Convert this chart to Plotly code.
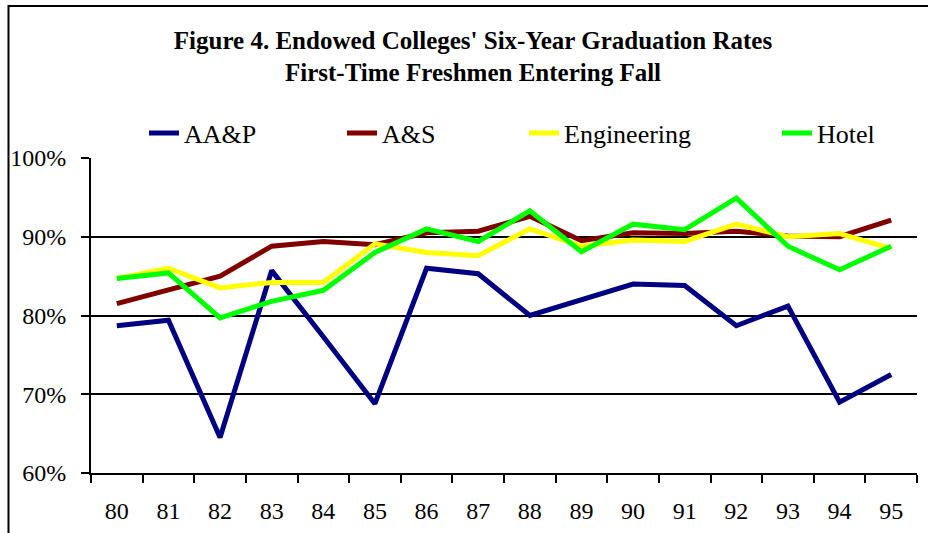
import plotly.graph_objects as go

years = ["80", "81", "82", "83", "84", "85", "86", "87", "88", "89", "90", "91", "92", "93", "94", "95"]
aap = [78.7, 79.4, 64.5, 85.7, 77.3, 68.8, 86.0, 85.3, 80.0, 82.0, 84.0, 83.8, 78.7, 81.2, 69.0, 72.5]
a_s = [81.5, 83.3, 85.0, 88.8, 89.4, 89.0, 90.5, 90.7, 92.6, 89.5, 90.5, 90.4, 90.7, 90.1, 90.0, 92.1]
engineering = [84.7, 86.0, 83.5, 84.2, 84.2, 89.1, 88.0, 87.6, 91.0, 88.8, 89.6, 89.4, 91.6, 90.0, 90.4, 88.5]
hotel = [84.7, 85.4, 79.7, 81.8, 83.2, 88.0, 91.0, 89.4, 93.3, 88.1, 91.6, 90.9, 94.9, 88.8, 85.8, 88.8]

series_names = ["AA&P", "A&S", "Engineering", "Hotel"]
series_values = [aap, a_s, engineering, hotel]
series_colors = ["#000080", "#800000", "#FFFF00", "#00FF00"]
legend_ids = ["legend", "legend2", "legend3", "legend4"]

FONT = "Liberation Serif"
W, H = 928, 533
ML, MR, MT, MB = 91, 11, 158, 60
plot_w = W - ML - MR
plot_h = H - MT - MB

# legend text start positions (px) -> legend origin is ~41px left of text
legend_text_px = [185, 383, 565, 818]

fig = go.Figure()
for name, vals, col, lid in zip(series_names, series_values, series_colors, legend_ids):
    fig.add_trace(go.Scatter(
        x=years, y=vals, name=name, mode="lines",
        line=dict(color=col, width=5), legend=lid,
    ))

legends = {}
for lid, tx in zip(legend_ids, legend_text_px):
    legends[lid] = dict(
        orientation="h", xref="paper", yref="paper",
        x=(tx - 41 - ML) / plot_w, xanchor="left",
        y=(H - MB - 133) / plot_h, yanchor="middle",
        font=dict(family=FONT, size=26, color="black"),
        bgcolor="rgba(0,0,0,0)", borderwidth=0,
    )

fig.update_layout(
    width=W, height=H,
    paper_bgcolor="white", plot_bgcolor="white",
    margin=dict(l=ML, r=MR, t=MT, b=MB, autoexpand=False),
    font=dict(family=FONT, size=24, color="black"),
    title=dict(
        text="<b>Figure 4. Endowed Colleges' Six-Year Graduation Rates<br>First-Time Freshmen Entering Fall</b>",
        x=473 / W, xanchor="center", xref="container",
        y=1 - 48.5 / H, yanchor="top", yref="container",
        font=dict(family=FONT, size=25, color="black"),
    ),
    showlegend=True,
    **legends,
)

fig.update_xaxes(
    type="category", range=[-0.5, len(years) - 0.5],
    tickson="boundaries", ticks="outside", ticklen=8,
    tickwidth=2, tickcolor="black", showline=True, linecolor="black", linewidth=2,
    showgrid=False, ticklabelstandoff=15, automargin=False,
    tickfont=dict(family=FONT, size=24, color="black"),
)
fig.update_yaxes(
    range=[60, 100], dtick=10, ticksuffix="%", ticks="outside", ticklen=8,
    tickwidth=2, tickcolor="black", showline=True, linecolor="black", linewidth=2,
    showgrid=True, gridcolor="black", gridwidth=1.5, zeroline=False,
    ticklabelstandoff=10, automargin=False,
    tickfont=dict(family=FONT, size=24, color="black"),
)

# outer chart frame (extends beyond the visible window on right/bottom)
fig.add_shape(
    type="rect", xref="paper", yref="paper",
    x0=(8.5 - ML) / plot_w, x1=2.0,
    y0=-1.0, y1=(H - MB - 6) / plot_h,
    line=dict(color="black", width=2), fillcolor="rgba(0,0,0,0)", layer="below",
)

fig.write_html(
    "out.html",
    config={"displayModeBar": False},
    post_script="document.body.style.margin='0';document.body.style.overflow='hidden';",
)
